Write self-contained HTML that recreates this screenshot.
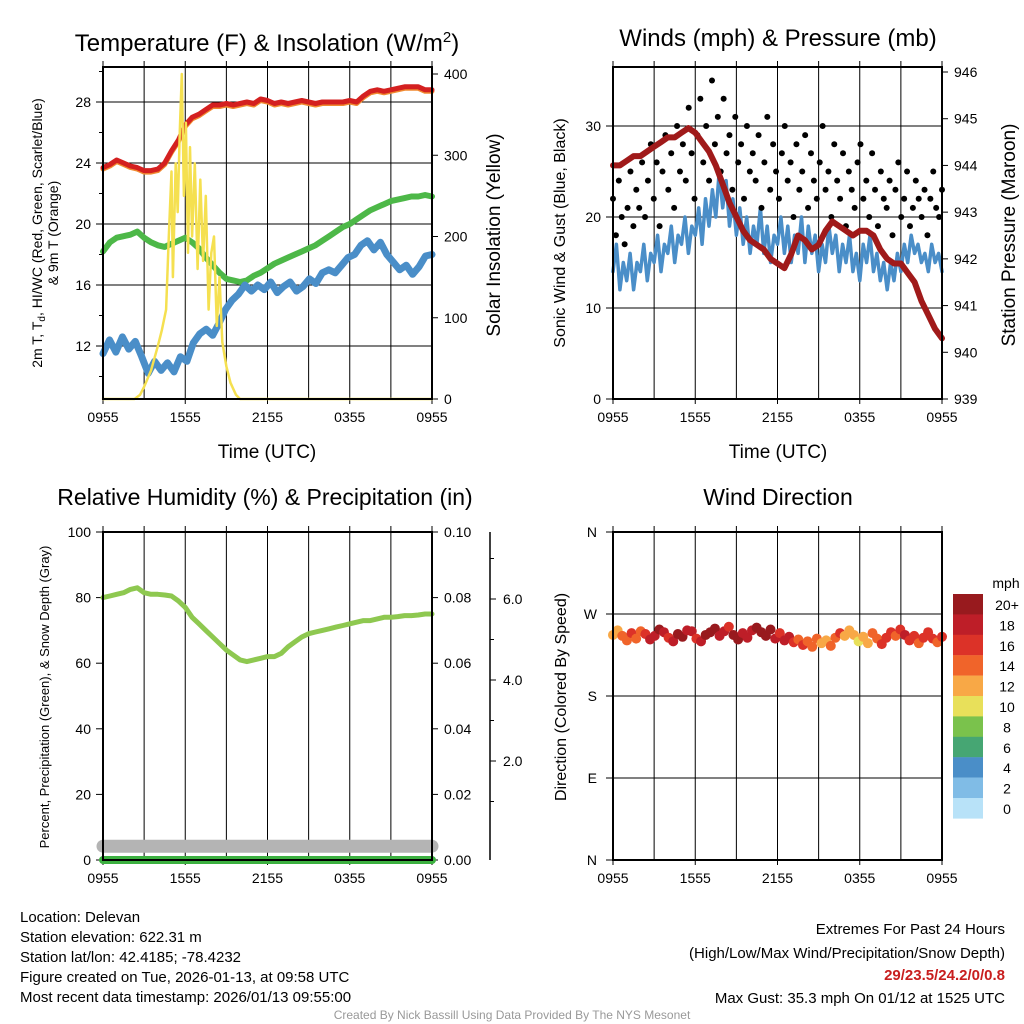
<!DOCTYPE html>
<html><head><meta charset="utf-8"><style>
body{margin:0;background:#fff}
svg{display:block;font-family:"Liberation Sans",Arial,sans-serif}
</style></head><body>
<svg id="c" width="1024" height="1024" viewBox="0 0 1024 1024"></svg>
<script>
const redT=[23.7,23.9,24.2,24.0,23.8,23.7,23.5,23.5,23.6,24.0,24.8,25.5,26.5,27.0,27.2,27.5,27.8,27.8,27.9,27.8,27.9,28.0,27.9,28.2,28.1,27.9,28.0,27.9,28.0,28.1,28.0,27.9,28.0,28.0,28.0,28.0,28.1,28.0,28.4,28.7,28.8,28.7,28.8,28.9,29.0,29.0,29.0,28.8,28.8];
const greenTd=[18.2,18.8,19.1,19.2,19.3,19.5,19.1,18.8,18.6,18.5,18.7,18.9,19.1,18.8,18.4,17.8,17.3,16.8,16.4,16.3,16.2,16.3,16.6,16.8,17.1,17.4,17.6,17.8,18.0,18.2,18.4,18.6,18.9,19.2,19.5,19.8,20.0,20.3,20.6,20.9,21.1,21.3,21.5,21.6,21.7,21.8,21.8,21.9,21.8];
const blueWC=[11.5,12.4,11.6,12.6,11.8,12.3,11.3,10.2,11.0,10.4,10.9,10.3,11.3,11.0,12.2,12.8,13.1,12.7,13.5,14.4,15.0,15.4,16.0,15.6,16.0,15.7,16.2,15.5,15.9,16.2,15.6,15.9,16.4,16.1,16.8,17.0,16.8,17.3,17.8,18.0,18.6,18.9,18.3,18.8,18.0,17.5,17.0,17.3,16.7,17.2,17.9,18.0];
const solarH=[0,2.3,2.7,3.0,3.5,4.0,4.3,4.6,4.8,5.0,5.1,5.3,5.45,5.6,5.75,5.9,6.05,6.2,6.35,6.5,6.7,6.9,7.1,7.3,7.5,7.7,7.9,8.1,8.3,8.5,8.7,9.0,9.3,9.7,10,24];
const solarV=[0,0,5,15,35,65,85,110,200,280,150,290,230,330,400,250,340,180,310,200,290,160,270,170,250,110,180,200,90,150,70,40,20,5,0,0];
const windSpd=[14,17,12,15,13,16,12,15,14,17,13,16,15,18,14,17,16,19,15,18,17,20,16,19,18,21,17,22,19,23,20,25,21,24,19,22,18,21,17,20,16,19,17,21,16,19,15,18,17,20,16,19,15,18,16,20,15,19,16,18,14,17,15,19,16,18,14,17,15,18,14,16,13,17,15,18,14,16,13,15,12,15,13,16,14,17,15,18,16,17,15,16,14,17,15,16,14];
const gusts=[22,18,24,20,17,21,25,19,23,21,26,20,24,28,22,26,19,25,29,23,27,21,30,25,28,24,32,27,22,29,33,26,30,24,35,28,31,25,33,27,29,23,31,26,28,22,30,25,27,24,29,21,26,31,23,28,25,22,27,30,24,26,20,28,23,25,29,21,27,24,22,26,30,23,25,20,28,24,22,27,19,25,23,21,26,28,22,24,20,27,23,19,25,22,21,24,18,23,26,20,22,25,19,21,24,22,20,23,18,22,25,21,20,23];
const pressure=[944.0,944.0,944.1,944.2,944.2,944.3,944.4,944.5,944.6,944.6,944.7,944.8,944.7,944.5,944.3,944.0,943.6,943.2,942.9,942.6,942.4,942.3,942.2,942.0,941.9,941.8,942.1,942.5,942.4,942.2,942.3,942.6,942.8,942.7,942.6,942.5,942.6,942.6,942.5,942.2,942.0,941.9,941.9,941.7,941.5,941.1,940.8,940.5,940.3];
const rh=[80,80.5,81,81.5,82.5,83,81.5,81,81,80.8,80.5,79,77,74,72,70,68,66,64,62.5,61,60.5,61,61.5,62,62,63,65,66.5,68,69,69.5,70,70.5,71,71.5,72,72.5,73,73,73.5,74,74,74.2,74.5,74.5,74.7,75,75];
const windDir=[247,252,246,241,249,243,251,248,242,246,253,250,244,240,248,245,252,251,243,240,247,250,254,246,251,256,247,242,249,244,252,255,250,246,253,243,249,241,245,239,242,236,240,234,243,238,241,235,244,249,246,252,247,240,245,238,249,243,237,244,250,246,253,247,241,246,238,244,250,243,239,245];
const dirSpd=[12,13,14,15,16,14,15,17,18,19,20,18,17,19,21,20,19,18,17,19,20,21,22,19,18,17,20,21,19,18,19,20,21,22,20,18,17,19,18,16,15,16,14,15,14,13,12,14,15,16,13,12,13,11,12,13,14,15,16,17,16,15,17,18,16,17,15,16,17,16,15,16];
const timeTicks=["0955","1555","2155","0355","0955"];
const cbLabels=["20+","18","16","14","12","10","8","6","4","2","0"];
const cbColors=["#981a1e","#be1e28","#dc3228","#f0642a","#f8a846","#e8e05a","#7ac24c","#46a673","#4a8ec8","#80bce6","#b8e2f8"];

const S=document.getElementById('c'),NS='http://www.w3.org/2000/svg';
function mk(t,a,p){const e=document.createElementNS(NS,t);for(const k in a)e.setAttribute(k,a[k]);(p||S).appendChild(e);return e;}
function txt(x,y,s,size,anchor,extra){const e=mk('text',Object.assign({x:x,y:y,'font-size':size,'text-anchor':anchor||'middle',fill:'#000'},extra||{}));e.textContent=s;return e;}
function lin(a,b,c,d){return (v)=>c+(v-a)*(d-c)/(b-a);}
function path(xs,ys,attrs,name){let d='';xs.forEach((x,i)=>d+=(i?'L':'M')+x.toFixed(1)+','+ys[i].toFixed(1));const e=mk('path',Object.assign({d:d,fill:'none','stroke-linejoin':'round','stroke-linecap':'round'},attrs));

return e;}
function hrs(n){return Array.from({length:n},(_,i)=>i*24/(n-1));}

function frame(x0,y0,x1,y1,name){
 const g=mk('g',{});
 
 
 const X=lin(0,24,x0,x1);
 for(let h=3;h<24;h+=3)mk('line',{x1:X(h),x2:X(h),y1:y0,y2:y1,stroke:'#000','stroke-width':1},g);
 timeTicks.forEach((t,i)=>{const x=X(i*6);mk('line',{x1:x,x2:x,y1:y1,y2:y1+5,stroke:'#000'},g);const e=txt(x,y1+23,t,14);
 
 });
 for(let h=0;h<=24;h+=3)mk('line',{x1:X(h),x2:X(h),y1:y0-6,y2:y0,stroke:'#000'},g);
 return {g,X};
}
function hgrid(g,x0,x1,y){mk('line',{x1:x0,x2:x1,y1:y,y2:y,stroke:'#000','stroke-width':1},g);}
function border(x0,y0,x1,y1){mk('rect',{x:x0,y:y0,width:x1-x0,height:y1-y0,fill:'none',stroke:'#000','stroke-width':2});}

// ---------- Panel 1 ----------
(function(){
 const x0=103,x1=432,y0=67,y1=399;
 const {g,X}=frame(x0,y0,x1,y1,'temperature-panel');
 const Y=lin(12,28,346,102),YS=lin(0,400,399,74);
 [12,16,20,24,28].forEach(v=>{hgrid(g,x0,x1,Y(v));mk('line',{x1:x0-7,x2:x0,y1:Y(v),y2:Y(v),stroke:'#000'});const e=txt(x0-12,Y(v)+5,v,14,'end');
 
 });
 [10,14,18,22,26,30].forEach(v=>mk('line',{x1:x0-4,x2:x0,y1:Y(v),y2:Y(v),stroke:'#000'}));
 [0,100,200,300,400].forEach(v=>{mk('line',{x1:x1,x2:x1+6,y1:YS(v),y2:YS(v),stroke:'#000'});const e=txt(x1+12,YS(v)+5,v,14,'start');
 
 });
 path(hrs(redT.length).map(X),redT.map(v=>Y(v)+1.5),{stroke:'#f08a30','stroke-width':5},'orange-9m-temp-line');
 path(hrs(redT.length).map(X),redT.map(Y),{stroke:'#d42020','stroke-width':5},'red-temp-line');
 path(hrs(greenTd.length).map(X),greenTd.map(Y),{stroke:'#4db848','stroke-width':6},'green-dewpoint-line');
 path(hrs(blueWC.length).map(X),blueWC.map(Y),{stroke:'#4a8ec8','stroke-width':7},'blue-windchill-line');
 path(solarH.map(X),solarV.map(YS),{stroke:'#f5e050','stroke-width':2.5},'yellow-solar-line');
 border(x0,y0,x1,y1);
 const t=txt(267,51,'Temperature (F) & Insolation (W/m',24);const s=mk('tspan',{dy:-9,'font-size':15},t);s.textContent='2';const s2=mk('tspan',{dy:9},t);s2.textContent=')';
 
 const xt=txt(267,458,'Time (UTC)',19);
 const a=txt(0,0,'2m T, T',14,'middle',{transform:'translate(42,233) rotate(-90)'});const sub=mk('tspan',{dy:3,'font-size':10},a);sub.textContent='d';const r=mk('tspan',{dy:-3},a);r.textContent=', HI/WC (Red, Green, Scarlet/Blue)';
 
 const b=txt(0,0,'& 9m T (Orange)',14,'middle',{transform:'translate(58,233) rotate(-90)'});
 const c=txt(0,0,'Solar Insolation (Yellow)',19,'middle',{transform:'translate(500,235) rotate(-90)'});
})();

// ---------- Panel 2 ----------
(function(){
 const x0=613,x1=942,y0=67,y1=399;
 const {g,X}=frame(x0,y0,x1,y1,'winds-panel');
 const Y=lin(0,30,399,126),YP=lin(939,946,399,72);
 [0,10,20,30].forEach(v=>{hgrid(g,x0,x1,Y(v));mk('line',{x1:x0-7,x2:x0,y1:Y(v),y2:Y(v),stroke:'#000'});const e=txt(x0-12,Y(v)+5,v,14,'end');
 });
 [939,940,941,942,943,944,945,946].forEach(v=>{mk('line',{x1:x1,x2:x1+6,y1:YP(v),y2:YP(v),stroke:'#000'});const e=txt(x1+12,YP(v)+5,v,14,'start');
 });
 path(hrs(windSpd.length).map(X),windSpd.map(Y),{stroke:'#4a8ec8','stroke-width':3.5},'blue-wind-line');
 const gh=hrs(gusts.length);
 gusts.forEach((v,i)=>{const e=mk('circle',{cx:X(gh[i]),cy:Y(v),r:3,fill:'#000'});
 });
 path(hrs(pressure.length).map(X),pressure.map(YP),{stroke:'#a01a1a','stroke-width':6},'maroon-pressure-line');
 border(x0,y0,x1,y1);
 const t=txt(778,46,'Winds (mph) & Pressure (mb)',24);
 const xt=txt(778,458,'Time (UTC)',19);
 const a=txt(0,0,'Sonic Wind & Gust (Blue, Black)',16,'middle',{transform:'translate(565,233) rotate(-90)'});
 const c=txt(0,0,'Station Pressure (Maroon)',19,'middle',{transform:'translate(1015,235) rotate(-90)'});
})();

// ---------- Panel 3 ----------
(function(){
 const x0=103,x1=432,y0=532,y1=860;
 const {g,X}=frame(x0,y0,x1,y1,'humidity-panel');
 const Y=lin(0,100,860,532),YP=lin(0,0.1,860,532),YSn=lin(2,6,761,599);
 [0,20,40,60,80,100].forEach(v=>{mk('line',{x1:x0-7,x2:x0,y1:Y(v),y2:Y(v),stroke:'#000'});const e=txt(x0-12,Y(v)+5,v,14,'end');
 });
 [0,0.02,0.04,0.06,0.08,0.10].forEach(v=>{mk('line',{x1:x1,x2:x1+6,y1:YP(v),y2:YP(v),stroke:'#000'});const e=txt(x1+12,YP(v)+5,v.toFixed(2),14,'start');
 });
 mk('line',{x1:490,x2:490,y1:532,y2:860,stroke:'#000','stroke-width':1.5});
 [2,4,6].forEach(v=>{mk('line',{x1:490,x2:496,y1:YSn(v),y2:YSn(v),stroke:'#000'});const e=txt(503,YSn(v)+5,v.toFixed(1),14,'start');
 });
 [1,3,5,7].forEach(v=>mk('line',{x1:490,x2:494,y1:YSn(v),y2:YSn(v),stroke:'#000'}));
 path([X(0),X(24)],[Y(4.2),Y(4.2)],{stroke:'#b4b4b4','stroke-width':13},'gray-snow-depth-line');
 path([X(0),X(24)],[Y(0),Y(0)],{stroke:'#3cb040','stroke-width':8},'green-precip-line');
 path(hrs(rh.length).map(X),rh.map(Y),{stroke:'#8ec850','stroke-width':5},'green-rh-line');
 border(x0,y0,x1,y1);
 const t=txt(265,505,'Relative Humidity (%) & Precipitation (in)',23);
 const a=txt(0,0,'Percent, Precipitation (Green), & Snow Depth (Gray)',13,'middle',{transform:'translate(49,697) rotate(-90)'});
})();

// ---------- Panel 4 ----------
(function(){
 const x0=613,x1=942,y0=532,y1=860;
 const {g,X}=frame(x0,y0,x1,y1,'wind-direction-panel');
 const Y=lin(0,360,860,532);
 [[0,'N'],[90,'E'],[180,'S'],[270,'W'],[360,'N']].forEach(([v,l])=>{hgrid(g,x0,x1,Y(v));mk('line',{x1:x0-7,x2:x0,y1:Y(v),y2:Y(v),stroke:'#000'});const e=txt(x0-16,Y(v)+5,l,14,'end');
 });
 const dh=hrs(windDir.length);
 function col(s){const i=Math.min(10,Math.floor(s/2));return cbColors[10-i];}
 windDir.forEach((v,i)=>{const e=mk('circle',{cx:X(dh[i]),cy:Y(v),r:5,fill:col(dirSpd[i])});
 });
 border(x0,y0,x1,y1);
 const t=txt(778,505,'Wind Direction',23);
 const a=txt(0,0,'Direction (Colored By Speed)',16,'middle',{transform:'translate(566,697) rotate(-90)'});
 const u=txt(1006,588,'mph',14);
 cbLabels.forEach((l,i)=>{const y=594+i*20.4;const r=mk('rect',{x:953,y:y,width:30,height:20.6,fill:cbColors[i]});
 
 const e=txt(1007,y+16,l,14);});
})();

// ---------- Footer ----------
["Location: Delevan","Station elevation: 622.31 m","Station lat/lon: 42.4185; -78.4232","Figure created on Tue, 2026-01-13, at 09:58 UTC","Most recent data timestamp: 2026/01/13 09:55:00"].forEach((s,i)=>{const e=txt(20,922+i*20,s,15,'start');
});
[["Extremes For Past 24 Hours",934,'#000',''],["(High/Low/Max Wind/Precipitation/Snow Depth)",958,'#000',''],["29/23.5/24.2/0/0.8",980,'#c81e1e','bold'],["Max Gust: 35.3 mph On 01/12 at 1525 UTC",1003,'#000','']].forEach(([s,y,c,w])=>{const e=txt(1005,y,s,15,'end',{fill:c,'font-weight':w||'normal'});
});
const cr=txt(512,1019,'Created By Nick Bassill Using Data Provided By The NYS Mesonet',12,'middle',{fill:'#999'});

</script>
</body></html>
